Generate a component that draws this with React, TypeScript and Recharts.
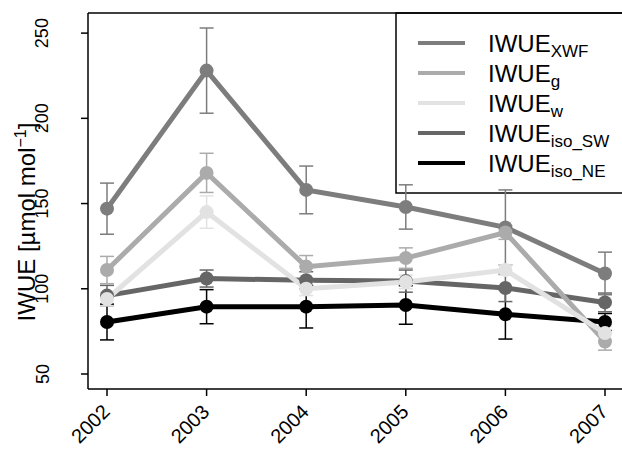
import React from "react"
import { LineChart, Line, XAxis, YAxis, ErrorBar, Customized } from "recharts"

const years = [2002, 2003, 2004, 2005, 2006, 2007]

const xwf = [147, 228, 158, 148, 136, 109]
const xwfErr = [15, 25, 14, 13, 22, 12.5]
const gVals = [111, 168, 113, 118, 133, 69]
const gErr = [8, 11.5, 6.5, 6, 4, 5]
const wVals = [94, 145, 100, 104, 111, 74]
const wErr = [4, 9.5, 4, 4, 3, 4]
const isoSW = [96, 106, 105, 104.5, 100.5, 92]
const isoSWErr = [6, 5, 5, 6.5, 8, 5.5]
const isoNE = [80.5, 89.5, 89.5, 90.5, 85, 80.5]
const isoNEErr = [10.5, 10, 12.5, 11.3, 14.5, 5]

const yTicks = [50, 100, 150, 200, 250]

// legend order
const series = [
  { key: "xwf", sub: "XWF", color: "#7d7d7d", values: xwf, errs: xwfErr },
  { key: "g", sub: "g", color: "#ababab", values: gVals, errs: gErr },
  { key: "w", sub: "w", color: "#e2e2e2", values: wVals, errs: wErr },
  { key: "sw", sub: "iso_SW", color: "#666666", values: isoSW, errs: isoSWErr },
  { key: "ne", sub: "iso_NE", color: "#000000", values: isoNE, errs: isoNEErr },
]

// drawing order (bottom to top)
const drawOrder = ["ne", "sw", "xwf", "g", "w"]

const data = years.map((year, i) => {
  const row: Record<string, number> = { year }
  series.forEach((s) => {
    row[s.key] = s.values[i]
    row[s.key + "Err"] = s.errs[i]
  })
  return row
})

const font = "'Liberation Sans', Arial, sans-serif"

const YTick = (props: any) => {
  const { y, payload } = props
  const ax = 48.5
  return (
    <text x={ax} y={y} transform={`rotate(-90 ${ax} ${y})`} textAnchor="middle" fill="#000" style={{ fontSize: 18, fontFamily: font }}>
      {payload.value}
    </text>
  )
}

const XTick = (props: any) => {
  const { x, payload } = props
  const ax = x + 4
  const ay = 413
  return (
    <text x={ax} y={ay} transform={`rotate(-45 ${ax} ${ay})`} textAnchor="end" fill="#000" style={{ fontSize: 20, fontFamily: font }}>
      {payload.value}
    </text>
  )
}

const Extras = () => (
  <g style={{ fontFamily: font }}>
    <text x={35} y={222} transform="rotate(-90 35 222)" textAnchor="middle" fill="#000" style={{ fontSize: 24 }}>
      IWUE [µmol mol<tspan dy={-9} style={{ fontSize: 16 }}>−1</tspan>
      <tspan dy={9}>]</tspan>
    </text>
    <rect x={396} y={13} width={260} height={180} fill="#fff" stroke="#000" strokeWidth={1.5} />
    {series.map((s, i) => {
      const ly = 43 + i * 30
      return (
        <g key={s.key}>
          <line x1={418} x2={465} y1={ly} y2={ly} stroke={s.color} strokeWidth={4} />
          <text x={488} y={ly + 8.5} fill="#000" style={{ fontSize: 24 }}>
            IWUE<tspan dy={5} style={{ fontSize: 17 }}>{s.sub}</tspan>
          </text>
        </g>
      )
    })}
  </g>
)

export default function App() {
  return (
    <div style={{ position: "absolute", left: 0, top: 0 }}>
      <LineChart width={622} height={450} data={data} margin={{ top: 0, right: 0, bottom: 0, left: 0 }}>
        <XAxis
          dataKey="year"
          type="number"
          domain={[2002, 2007]}
          ticks={years}
          padding={{ left: 19, right: 17 }}
          height={61}
          tickSize={7}
          axisLine={{ stroke: "#000", strokeWidth: 1.5 }}
          tickLine={{ stroke: "#000", strokeWidth: 1.5 }}
          tick={<XTick />}
          interval={0}
        />
        <XAxis
          xAxisId="top"
          orientation="top"
          dataKey="year"
          type="number"
          domain={[2002, 2007]}
          padding={{ left: 19, right: 17 }}
          height={13}
          tick={false}
          tickLine={false}
          axisLine={{ stroke: "#000", strokeWidth: 1.5 }}
        />
        <YAxis
          type="number"
          domain={[50, 250]}
          ticks={yTicks}
          padding={{ top: 15, bottom: 15 }}
          width={88}
          tickSize={7}
          axisLine={{ stroke: "#000", strokeWidth: 1.5 }}
          tickLine={{ stroke: "#000", strokeWidth: 1.5 }}
          tick={<YTick />}
          interval={0}
        />
        {drawOrder.map((k) => {
          const s = series.find((d) => d.key === k)!
          return (
            <Line
              key={s.key}
              dataKey={s.key}
              stroke={s.color}
              strokeWidth={5}
              dot={{ r: 7, fill: s.color, stroke: "none" }}
              activeDot={false}
              isAnimationActive={false}
            >
              <ErrorBar dataKey={s.key + "Err"} direction="y" width={7} stroke={s.color} strokeWidth={1.5} />
            </Line>
          )
        })}
        <Customized component={Extras} />
      </LineChart>
    </div>
  )
}
